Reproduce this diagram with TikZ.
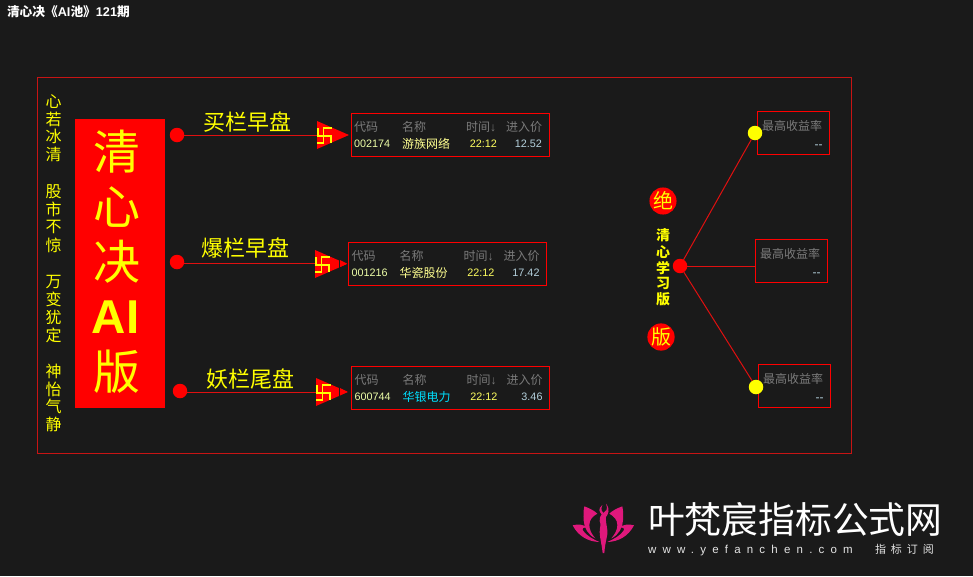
\documentclass[tikz,border=0pt]{standalone}
\usepackage{fontspec}
\setmainfont{Noto Sans CJK SC}
\newfontfamily\latinf{Liberation Sans}
\usetikzlibrary{calc}
\definecolor{bgc}{HTML}{1A1A1A}
\definecolor{redc}{HTML}{FF0000}
\definecolor{framec}{HTML}{C81414}
\definecolor{linec}{HTML}{E01010}
\definecolor{yel}{HTML}{FFFF00}
\definecolor{hdr}{HTML}{7A7A7A}
\definecolor{codec}{HTML}{EEFFA8}
\definecolor{namec}{HTML}{FFFF90}
\definecolor{timec}{HTML}{FFFF60}
\definecolor{pricec}{HTML}{B4D0DC}
\definecolor{cyanc}{HTML}{00E0FF}
\definecolor{pinkc}{HTML}{E0187C}
\definecolor{markc}{HTML}{E4E4E4}
\newcommand{\fs}[1]{\fontsize{#1}{#1}\selectfont}
\tikzset{
  x=1pt,y=-1pt,
  txt/.style={inner sep=0,outer sep=0},
  hdrtxt/.style={txt,anchor=base west,text=hdr,font=\fs{12}},
  dot/.style={circle,fill=redc,inner sep=0,outer sep=0,minimum size=14.5pt},
  ydot/.style={dot,fill=yel},
  tablebox/.style={draw=redc,line width=1pt,inner sep=0,outer sep=0,anchor=north west,minimum width=198pt,minimum height=43.5pt},
  rbox/.style={draw=redc,line width=1pt,inner sep=0,outer sep=0,anchor=north west,minimum width=72pt,minimum height=43pt},
  conn/.style={draw=linec,line width=1pt},
  heading/.style={txt,text=yel,font=\fs{22}},
  bigc/.style={txt,text=yel,font=\fs{47}},
  sidec/.style={txt,text=yel,font=\fs{16}},
  vertc/.style={txt,text=yel,font=\fs{14}\bfseries},
  roundc/.style={circle,fill=redc,text=yel,inner sep=0,outer sep=0,minimum size=27pt,font=\fs{20}},
}
% triangle marker: #1 name, #2 left x, #3 centre y
\newcommand{\marker}[3]{%
  \coordinate (#1) at (#2,#3);
  \fill[redc] ($(#1)+(0,-14)$) -- ($(#1)+(32,0)$) -- ($(#1)+(0,14)$) -- cycle;
  \draw[yel,line width=1.6pt] ($(#1)+(6,-7)$) -- ($(#1)+(15,-7)$);
  \draw[yel,line width=1.6pt] ($(#1)+(6.5,-7)$) -- ($(#1)+(6.5,8)$);
  \draw[yel,line width=1.6pt] ($(#1)+(0,1)$) -- ($(#1)+(15,1)$);
  \draw[yel,line width=1.6pt] ($(#1)+(1,-7)$) -- ($(#1)+(1,1)$);
  \draw[yel,line width=1.6pt] ($(#1)+(14,1)$) -- ($(#1)+(14,8)$);
  \draw[yel,line width=1.6pt] ($(#1)+(0,8)$) -- ($(#1)+(7,8)$);
}
% table: #1 name, #2 x, #3 y, #4 code, #5 name text, #6 name colour, #7 time, #8 price
\newcommand{\stocktable}[8]{%
  \node[tablebox] (#1) at (#2,#3) {};
  \node[hdrtxt] (#1h1) at ($(#1.north west)+(3,18)$) {代码};
  \node[hdrtxt] (#1h2) at ($(#1.north west)+(51,18)$) {名称};
  \node[hdrtxt] (#1h3) at ($(#1.north west)+(115,18)$) {时间{\latinf\fs{12}↓}};
  \node[hdrtxt,anchor=base east] (#1h4) at ($(#1.north west)+(191,18)$) {进入价};
  \node[txt,anchor=base west,text=codec,font=\latinf\fs{10.8}] (#1v1) at ($(#1.north west)+(3,34)$) {#4};
  \node[txt,anchor=base west,text=#6,font=\fs{12}] (#1v2) at ($(#1.north west)+(51,35)$) {#5};
  \node[txt,anchor=base east,text=timec,font=\latinf\fs{10.8}] (#1v3) at ($(#1.north west)+(146,34)$) {#7};
  \node[txt,anchor=base east,text=pricec,font=\latinf\fs{10.8}] (#1v4) at ($(#1.north west)+(191,34)$) {#8};
}
% right box: #1 name, #2 x, #3 y
\newcommand{\ratebox}[3]{%
  \node[rbox] (#1) at (#2,#3) {};
  \node[txt,text=hdr,font=\fs{12}] (#1t) at ($(#1.north west)+(34.5,14.5)$) {最高收益率};
  \node[txt,anchor=base east,text=pricec,font=\latinf\fs{12}] (#1d) at ($(#1.north west)+(65,37)$) {{-}{-}};
}
\begin{document}
\begin{tikzpicture}
\useasboundingbox (0,0) rectangle (973,576);
\fill[bgc] (0,0) rectangle (973,576);

\node[txt,anchor=base west,text=white,font=\fs{12.7}\bfseries] (title) at (7,16) {清心决《{\latinf AI}池》{\latinf 121}期};

\node[draw=framec,line width=1pt,inner sep=0,outer sep=0,anchor=north west,minimum width=814pt,minimum height=376pt] (frame) at (37.5,77.5) {};

% left column
\node[sidec] (s1) at (53.5,102) {心};
\node[sidec] (s2) at (53.5,119.5) {若};
\node[sidec] (s3) at (53.5,136.5) {冰};
\node[sidec] (s4) at (53.5,154.5) {清};
\node[sidec] (s5) at (53.5,191.5) {股};
\node[sidec] (s6) at (53.5,209) {市};
\node[sidec] (s7) at (53.5,226.5) {不};
\node[sidec] (s8) at (53.5,245) {惊};
\node[sidec] (s9) at (53.5,282) {万};
\node[sidec] (s10) at (53.5,299.5) {变};
\node[sidec] (s11) at (53.5,317) {犹};
\node[sidec] (s12) at (53.5,335) {定};
\node[sidec] (s13) at (53.5,371.5) {神};
\node[sidec] (s14) at (53.5,389) {怡};
\node[sidec] (s15) at (53.5,406.5) {气};
\node[sidec] (s16) at (53.5,424) {静};

% big red banner
\node[fill=redc,inner sep=0,outer sep=0,anchor=north west,minimum width=90pt,minimum height=288.5pt] (banner) at (75,119) {};
\node[bigc] (b1) at (117,152) {清};
\node[bigc] (b2) at (117,207) {心};
\node[bigc] (b3) at (117,262) {决};
\node[txt,text=yel,font=\latinf\fs{47.5}\bfseries] (b4) at (115.5,317) {AI};
\node[bigc] (b5) at (117,372) {版};

% rows
\node[heading] (h1) at (247,122) {买栏早盘};
\node[heading] (h2) at (245.5,248.5) {爆栏早盘};
\node[heading] (h3) at (250,379) {妖栏尾盘};

\marker{m1}{317}{135}
\marker{m2}{315}{264}
\marker{m3}{316}{392}
\fill[redc] (340,260) -- (347,263.5) -- (340,267) -- cycle;
\fill[bgc] (339.4,258) rectangle (340.4,269);
\fill[redc] (340,388) -- (347,391.5) -- (340,395) -- cycle;
\fill[bgc] (339.4,386) rectangle (340.4,397);

\node[dot] (d1) at (177,135) {};
\node[dot] (d2) at (177,262) {};
\node[dot] (d3) at (180,391) {};
\draw[conn] (d1) -- (d1 -| m1);
\draw[conn] (d2.east |- 0,263.5) -- (m2 |- 0,263.5);
\draw[conn,line width=1.2pt] (d3.east |- 0,392.5) -- (m3 |- 0,392.5);

\stocktable{t1}{351}{113}{002174}{游族网络}{namec}{22:12}{12.52}
\stocktable{t2}{348.5}{242}{001216}{华瓷股份}{namec}{22:12}{17.42}
\stocktable{t3}{351.5}{366}{600744}{华银电力}{cyanc}{22:12}{3.46}

% right part
\node[roundc] (c1) at (663,201) {绝};
\node[roundc] (c2) at (661,337) {版};
\node[vertc] (v1) at (663,235.5) {清};
\node[vertc] (v2) at (663,252.5) {心};
\node[vertc] (v3) at (663,268.5) {学};
\node[vertc] (v4) at (663,283.5) {习};
\node[vertc] (v5) at (663,299.5) {版};

\ratebox{r1}{757.5}{111.5}
\ratebox{r2}{755.5}{239.5}
\ratebox{r3}{758.5}{364.5}

\node[dot] (hub) at (680,266) {};
\node[ydot] (y1) at (755,133) {};
\node[ydot] (y2) at (756,387) {};
\draw[conn] (hub) -- (y1);
\draw[conn] (hub) -- (y2);
\draw[conn] (hub) -- (hub -| r2.west);

% watermark
\begin{scope}[shift={(570,497)},xscale=1/3,yscale=1/3]
  \foreach \s/\o in {1/0,-1/200}{
    \begin{scope}[shift={(\o,0)},xscale=\s]
      \fill[pinkc] (43,28) .. controls (60,34) and (74,42) .. (82,50)
        .. controls (68,58) and (58,68) .. (58,84)
        .. controls (58,98) and (64,110) .. (76,124)
        .. controls (54,114) and (42,92) .. (41,70)
        .. controls (40,55) and (40,42) .. (43,28) -- cycle;
      \fill[pinkc] (8,85) .. controls (24,80) and (42,83) .. (54,92)
        .. controls (40,90) and (34,94) .. (40,102)
        .. controls (50,116) and (68,126) .. (88,135)
        .. controls (55,134) and (25,118) .. (8,85) -- cycle;
    \end{scope}
  }
  \fill[pinkc] (98,168) .. controls (96,145) and (89,122) .. (89,105)
    .. controls (89,92) and (94,82) .. (89,72)
    .. controls (87,62) and (92,58) .. (95,52)
    .. controls (88,44) and (83,36) .. (97,24)
    .. controls (91,38) and (96,44) .. (100,48)
    .. controls (106,44) and (116,38) .. (108,20)
    .. controls (122,38) and (114,52) .. (108,60)
    .. controls (106,70) and (110,82) .. (112,100)
    .. controls (114,116) and (105,135) .. (103,168) -- cycle;
\end{scope}
\node[txt,anchor=base west,text=white,font=\fs{36.8}] (w1) at (648,533) {叶梵宸指标公式网};
\node[txt,anchor=base west,text=markc,font=\latinf\fs{11.5}] (w2) at (648,553) {\addfontfeature{LetterSpace=54}www.yefanchen.com};
\node[txt,anchor=base west,text=markc,font=\fs{11}] (w3) at (875,553) {\addfontfeature{LetterSpace=45}指标订阅};
\end{tikzpicture}
\end{document}
